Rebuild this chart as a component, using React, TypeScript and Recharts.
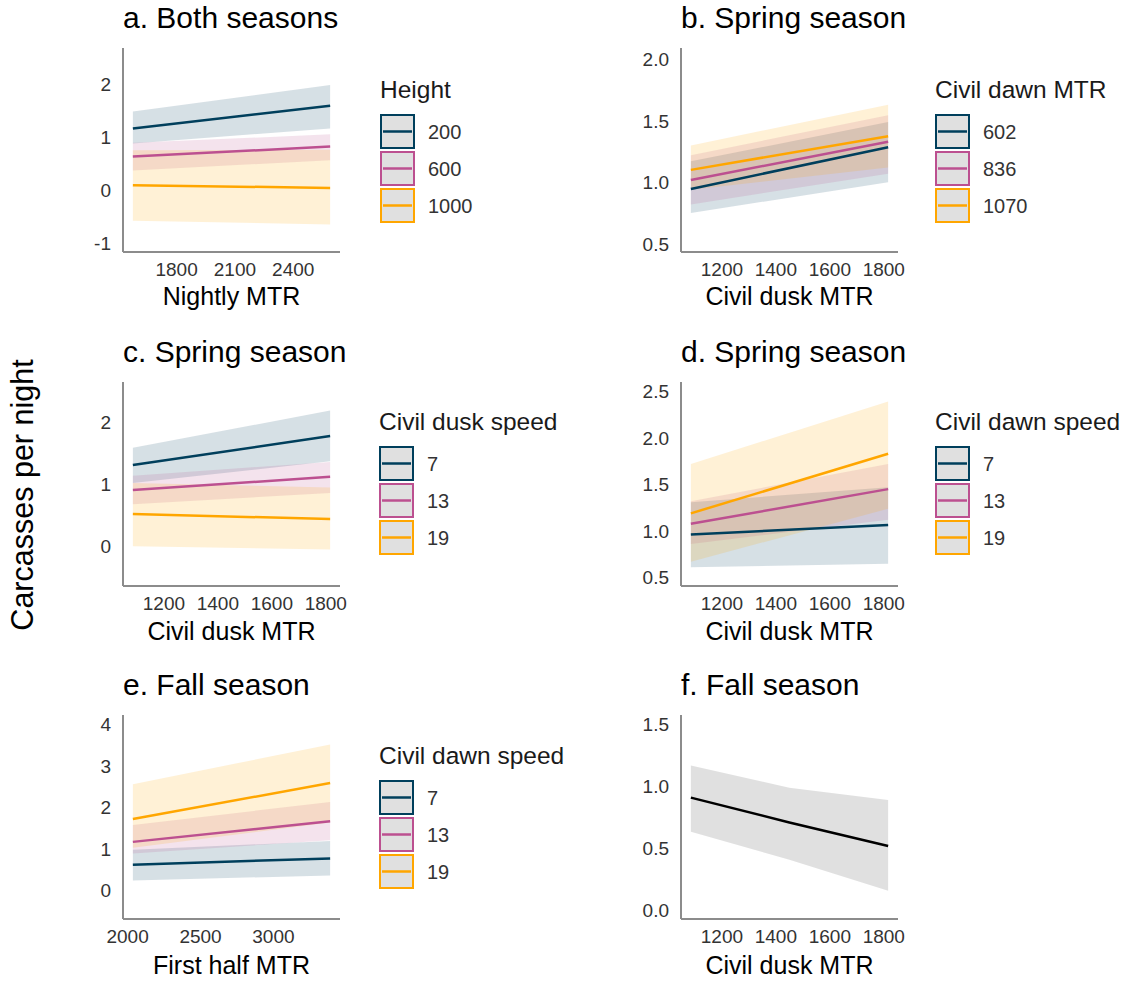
import React from 'react';
import { ComposedChart, Area, Line, XAxis, YAxis } from 'recharts';

// ---------- colours ----------
const PALETTE = ['#003f5c', '#bc5090', '#ffa600'];
const BLACK = ['#000000'];

// ---------- a. Both seasons ----------
const aX = [1575, 2590];
const aLevels = ['200', '600', '1000'];
const aFit = [[1.17, 1.6], [0.64, 0.83], [0.1, 0.05]];
const aLo = [[0.89, 1.17], [0.38, 0.57], [-0.57, -0.64]];
const aHi = [[1.49, 1.99], [0.9, 1.06], [0.76, 0.77]];
const aXTicks = [1800, 2100, 2400];
const aYTicks = [-1, 0, 1, 2];

// ---------- b. Spring season ----------
const bX = [1085, 1816];
const bLevels = ['602', '836', '1070'];
const bFit = [[0.946, 1.285], [1.019, 1.33], [1.101, 1.375]];
const bLo = [[0.75, 1.0], [0.82, 1.07], [0.94, 1.12]];
const bHi = [[1.17, 1.49], [1.22, 1.545], [1.3, 1.63]];
const bXTicks = [1200, 1400, 1600, 1800];
const bYTicks = [0.5, 1, 1.5, 2];

// ---------- c. Spring season ----------
const cX = [1085, 1816];
const cLevels = ['7', '13', '19'];
const cFit = [[1.31, 1.78], [0.91, 1.12], [0.52, 0.44]];
const cLo = [[1.02, 1.37], [0.68, 0.86], [0.0, -0.05]];
const cHi = [[1.59, 2.19], [1.14, 1.36], [1.02, 0.95]];
const cXTicks = [1200, 1400, 1600, 1800];
const cYTicks = [0, 1, 2];

// ---------- d. Spring season ----------
const dX = [1085, 1816];
const dLevels = ['7', '13', '19'];
const dFit = [[0.963, 1.064], [1.078, 1.45], [1.19, 1.83]];
const dLo = [[0.61, 0.65], [0.86, 1.12], [0.67, 1.24]];
const dHi = [[1.31, 1.47], [1.32, 1.72], [1.72, 2.39]];
const dXTicks = [1200, 1400, 1600, 1800];
const dYTicks = [0.5, 1, 1.5, 2, 2.5];

// ---------- e. Fall season ----------
const eX = [2036, 3389];
const eLevels = ['7', '13', '19'];
const eFit = [[0.62, 0.77], [1.17, 1.67], [1.72, 2.59]];
const eLo = [[0.24, 0.36], [0.89, 1.21], [1.03, 1.64]];
const eHi = [[0.98, 1.19], [1.58, 2.13], [2.56, 3.52]];
const eXTicks = [2000, 2500, 3000];
const eYTicks = [0, 1, 2, 3, 4];

// ---------- f. Fall season ----------
const fX = [1085, 1450, 1816];
const fFit = [[0.91, 0.71, 0.52]];
const fLo = [[0.635, 0.41, 0.16]];
const fHi = [[1.17, 0.99, 0.89]];
const fXTicks = [1200, 1400, 1600, 1800];
const fYTicks = [0, 0.5, 1, 1.5];

const FONT = '"Liberation Sans", Arial, Helvetica, sans-serif';
const AXIS_COLOR = '#8c8c8c';
const TICK_COLOR = '#333333';
const PLOT_W = 217;
const PLOT_H = 204;
const Y_AXIS_W = 70;

const expand = (xs: number[]): [number, number] => {
  const lo = Math.min(...xs);
  const hi = Math.max(...xs);
  const r = hi - lo;
  return [lo - 0.05 * r, hi + 0.05 * r];
};

type PanelProps = {
  left: number;
  top: number;
  xs: number[];
  fits: number[][];
  los: number[][];
  his: number[][];
  yDomain: [number, number];
  xTicks: number[];
  yTicks: number[];
  yDigits: number;
  colors: string[];
  bandOpacity: number;
};

function Panel({ left, top, xs, fits, los, his, yDomain, xTicks, yTicks, yDigits, colors, bandOpacity }: PanelProps) {
  const data = xs.map((x, i) => {
    const row: Record<string, any> = { x };
    fits.forEach((f, s) => {
      row['f' + s] = f[i];
      row['b' + s] = [los[s][i], his[s][i]];
    });
    return row;
  });
  return (
    <div style={{ position: 'absolute', left: left - Y_AXIS_W, top: top - 10 }}>
      <ComposedChart
        width={Y_AXIS_W + PLOT_W + 10}
        height={10 + PLOT_H + 40}
        data={data}
        margin={{ top: 10, right: 10, left: 0, bottom: 0 }}
      >
        <XAxis
          dataKey="x"
          type="number"
          domain={expand(xs)}
          ticks={xTicks}
          interval={0}
          allowDataOverflow
          tickLine={false}
          axisLine={{ stroke: AXIS_COLOR, strokeWidth: 2 }}
          tick={{ fill: TICK_COLOR, fontSize: 19, fontFamily: FONT }}
          tickMargin={5}
          height={40}
        />
        <YAxis
          type="number"
          domain={yDomain}
          ticks={yTicks}
          interval={0}
          allowDataOverflow
          tickLine={false}
          axisLine={{ stroke: AXIS_COLOR, strokeWidth: 2 }}
          tick={{ fill: TICK_COLOR, fontSize: 19, fontFamily: FONT }}
          tickMargin={6}
          tickFormatter={(v: number) => v.toFixed(yDigits)}
          width={Y_AXIS_W}
        />
        {fits.map((_, s) => (
          <Line
            key={'l' + s}
            dataKey={'f' + s}
            type="linear"
            stroke={colors[s]}
            strokeWidth={2.5}
            dot={false}
            activeDot={false}
            isAnimationActive={false}
          />
        ))}
        {fits.map((_, s) => (
          <Area
            key={'a' + s}
            dataKey={'b' + s}
            type="linear"
            stroke="none"
            fill={colors[s]}
            fillOpacity={bandOpacity}
            dot={false}
            activeDot={false}
            isAnimationActive={false}
          />
        ))}
      </ComposedChart>
    </div>
  );
}

function LegendBlock({ x, titleBaseline, title, levels, colors }: { x: number; titleBaseline: number; title: string; levels: string[]; colors: string[] }) {
  const keyTop = titleBaseline + 16;
  const step = 37;
  return (
    <g>
      <text x={x} y={titleBaseline} fontSize={24.5} fill="#1a1a1a" fontFamily={FONT}>
        {title}
      </text>
      {levels.map((lv, i) => {
        const y = keyTop + i * step;
        return (
          <g key={lv}>
            <rect x={x + 1} y={y + 1} width={33} height={33} fill="#e0e0e0" stroke={colors[i]} strokeWidth={2} />
            <line x1={x + 3} x2={x + 32} y1={y + 17.5} y2={y + 17.5} stroke={colors[i]} strokeWidth={2.5} />
            <text x={x + 48} y={y + 24.5} fontSize={20} fill={TICK_COLOR} fontFamily={FONT}>
              {lv}
            </text>
          </g>
        );
      })}
    </g>
  );
}

const LEFT_COL = 123;
const RIGHT_COL = 681;
const ROW_TOPS = [48, 382, 715];

export default function App() {
  const titles = [
    { t: 'a. Both seasons', x: LEFT_COL, y: 28 },
    { t: 'b. Spring season', x: RIGHT_COL, y: 28 },
    { t: 'c. Spring season', x: LEFT_COL, y: 362 },
    { t: 'd. Spring season', x: RIGHT_COL, y: 362 },
    { t: 'e. Fall season', x: LEFT_COL, y: 695 },
    { t: 'f. Fall season', x: RIGHT_COL, y: 695 },
  ];
  const xTitles = [
    { t: 'Nightly MTR', x: LEFT_COL + PLOT_W / 2, y: 305 },
    { t: 'Civil dusk MTR', x: RIGHT_COL + PLOT_W / 2, y: 305 },
    { t: 'Civil dusk MTR', x: LEFT_COL + PLOT_W / 2, y: 640 },
    { t: 'Civil dusk MTR', x: RIGHT_COL + PLOT_W / 2, y: 640 },
    { t: 'First half MTR', x: LEFT_COL + PLOT_W / 2, y: 974 },
    { t: 'Civil dusk MTR', x: RIGHT_COL + PLOT_W / 2, y: 974 },
  ];
  return (
    <div style={{ position: 'absolute', left: 0, top: 0, width: 1138, height: 983, background: '#ffffff', fontFamily: FONT }}>
      <Panel left={LEFT_COL} top={ROW_TOPS[0]} xs={aX} fits={aFit} los={aLo} his={aHi} yDomain={[-1.16, 2.69]} xTicks={aXTicks} yTicks={aYTicks} yDigits={0} colors={PALETTE} bandOpacity={0.16} />
      <Panel left={RIGHT_COL} top={ROW_TOPS[0]} xs={bX} fits={bFit} los={bLo} his={bHi} yDomain={[0.433, 2.092]} xTicks={bXTicks} yTicks={bYTicks} yDigits={1} colors={PALETTE} bandOpacity={0.16} />
      <Panel left={LEFT_COL} top={ROW_TOPS[1]} xs={cX} fits={cFit} los={cLo} his={cHi} yDomain={[-0.64, 2.65]} xTicks={cXTicks} yTicks={cYTicks} yDigits={0} colors={PALETTE} bandOpacity={0.16} />
      <Panel left={RIGHT_COL} top={ROW_TOPS[1]} xs={dX} fits={dFit} los={dLo} his={dHi} yDomain={[0.41, 2.6]} xTicks={dXTicks} yTicks={dYTicks} yDigits={1} colors={PALETTE} bandOpacity={0.16} />
      <Panel left={LEFT_COL} top={ROW_TOPS[2]} xs={eX} fits={eFit} los={eLo} his={eHi} yDomain={[-0.69, 4.23]} xTicks={eXTicks} yTicks={eYTicks} yDigits={0} colors={PALETTE} bandOpacity={0.16} />
      <Panel left={RIGHT_COL} top={ROW_TOPS[2]} xs={fX} fits={fFit} los={fLo} his={fHi} yDomain={[-0.068, 1.576]} xTicks={fXTicks} yTicks={fYTicks} yDigits={1} colors={BLACK} bandOpacity={0.12} />
      <svg width={1138} height={983} style={{ position: 'absolute', left: 0, top: 0, pointerEvents: 'none' }}>
        <text x={33} y={495} fontSize={30.5} fill="#000" fontFamily={FONT} textAnchor="middle" transform="rotate(-90, 33, 495)">
          Carcasses per night
        </text>
        {titles.map((d) => (
          <text key={d.t + d.x + d.y} x={d.x} y={d.y} fontSize={30} fill="#000" fontFamily={FONT}>
            {d.t}
          </text>
        ))}
        {xTitles.map((d) => (
          <text key={d.t + d.x + d.y} x={d.x} y={d.y} fontSize={25} fill="#000" fontFamily={FONT} textAnchor="middle">
            {d.t}
          </text>
        ))}
        <LegendBlock x={380} titleBaseline={98} title="Height" levels={aLevels} colors={PALETTE} />
        <LegendBlock x={935} titleBaseline={98} title="Civil dawn MTR" levels={bLevels} colors={PALETTE} />
        <LegendBlock x={379} titleBaseline={430} title="Civil dusk speed" levels={cLevels} colors={PALETTE} />
        <LegendBlock x={935} titleBaseline={430} title="Civil dawn speed" levels={dLevels} colors={PALETTE} />
        <LegendBlock x={379} titleBaseline={764} title="Civil dawn speed" levels={eLevels} colors={PALETTE} />
      </svg>
    </div>
  );
}
